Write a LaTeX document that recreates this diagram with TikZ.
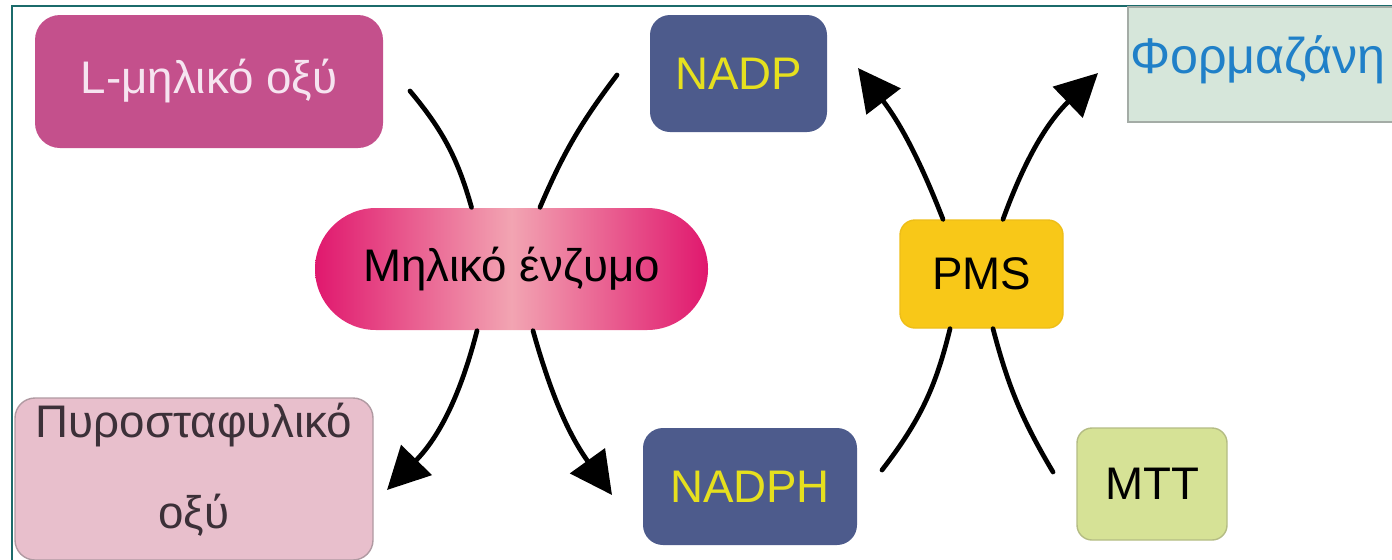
\documentclass[tikz,border=0pt]{standalone}
\usepackage{fontspec}
\setmainfont{Liberation Sans}
\usetikzlibrary{positioning,arrows.meta,shapes.misc}
\tikzset{>={Triangle[length=12pt,width=12pt]}}

\definecolor{frameteal}{HTML}{1B6B6B}
\definecolor{malfill}{HTML}{C4508C}
\definecolor{maltext}{HTML}{F6E4F0}
\definecolor{enzedge}{HTML}{E0186E}
\definecolor{enzmid}{HTML}{F2A4B2}
\definecolor{pyrfill}{HTML}{E8BFCC}
\definecolor{pyrline}{HTML}{B09AA2}
\definecolor{pyrtext}{HTML}{3C3038}
\definecolor{nadfill}{HTML}{4D5B8C}
\definecolor{nadtext}{HTML}{E6E01E}
\definecolor{formfill}{HTML}{D6E6DA}
\definecolor{formline}{HTML}{A4ACA6}
\definecolor{formtext}{HTML}{2080C8}
\definecolor{pmsfill}{HTML}{F8C818}
\definecolor{pmsline}{HTML}{EEBE18}
\definecolor{mttfill}{HTML}{D6E296}
\definecolor{mttline}{HTML}{B4BC84}

\tikzset{
  box/.style={rectangle, rounded corners=0.2cm, inner sep=0.05cm,
    font=\fontsize{13}{16}\selectfont},
  link/.style={line width=1.35pt, line cap=round},
}

\begin{document}
\begin{tikzpicture}
\useasboundingbox (0,0) rectangle (13.92,5.59);
% frame
\draw[frameteal, line width=0.8pt] (0.12,-0.2) -- (0.12,5.53) -- (14.1,5.53);
% boxes
\node[box, fill=malfill, text=maltext, rounded corners=0.25cm,
  minimum width=3.48cm, minimum height=1.33cm] (lmal) at (2.09,4.775) {L-μηλικό οξύ};
\node[box, sharp corners, rounded rectangle, left color=enzedge, right color=enzedge, middle color=enzmid,
  minimum width=4.03cm, minimum height=1.22cm] (enz) at (5.115,2.90) {Μηλικό ένζυμο};
\node[box, fill=pyrfill, draw=pyrline, text=pyrtext, align=center,
  font=\fontsize{13}{26}\selectfont,
  minimum width=3.58cm, minimum height=1.62cm] (pyr) at (1.94,0.80)
  {Πυροσταφυλικό\\οξύ\rule[-0.26cm]{0pt}{0.1pt}};
\node[box, fill=nadfill, text=nadtext,
  minimum width=1.77cm, minimum height=1.17cm] (nadp) at (7.385,4.855) {NADP};
\node[box, fill=nadfill, text=nadtext,
  minimum width=2.14cm, minimum height=1.17cm] (nadph) at (7.50,0.725) {NADPH};
\node[box, sharp corners, fill=formfill, draw=formline, text=formtext,
  font=\fontsize{14.3}{16}\selectfont,
  align=left, text width=2.68cm, inner xsep=0.02cm,
  minimum width=2.72cm, minimum height=1.15cm] (form) at (12.64,4.945)
  {Φορμαζάνη\rule[-0.2cm]{0pt}{0.1pt}};
\node[box, fill=pmsfill, draw=pmsline, rounded corners=0.15cm,
  minimum width=1.63cm, minimum height=1.08cm] (pms) at (9.815,2.85) {PMS};
\node[box, fill=mttfill, draw=mttline, rounded corners=0.15cm,
  minimum width=1.50cm, minimum height=1.12cm] (mtt) at (11.52,0.75) {MTT};
% free ends
\coordinate (in1) at (4.10,4.68);
\coordinate (in2) at (6.17,4.84);
\coordinate (out1) at (3.87,0.69);
\coordinate (out2) at (6.12,0.64);
\coordinate (in3) at (8.82,0.89);
\coordinate (in4) at (10.53,0.87);
\coordinate (out3) at (8.58,4.91);
\coordinate (out4) at (10.98,4.86);
% reaction curves
\draw[link] (in1) to[bend left=12] ([xshift=-0.40cm]enz.north);
\draw[link] (in2) to[bend right=7] ([xshift=0.285cm]enz.north);
\draw[link,->] ([xshift=-0.345cm]enz.south) to[bend left=15] (out1);
\draw[link,->] ([xshift=0.215cm]enz.south) to[bend right=10] (out2);
\draw[link] (in3) to[bend right=12] ([xshift=-0.315cm]pms.south);
\draw[link] (in4) to[bend left=8] ([xshift=0.115cm]pms.south);
\draw[link,->] ([xshift=-0.385cm]pms.north) to[bend right=8] (out3);
\draw[link,->] ([xshift=0.215cm]pms.north) to[bend left=13] (out4);
\end{tikzpicture}
\end{document}
